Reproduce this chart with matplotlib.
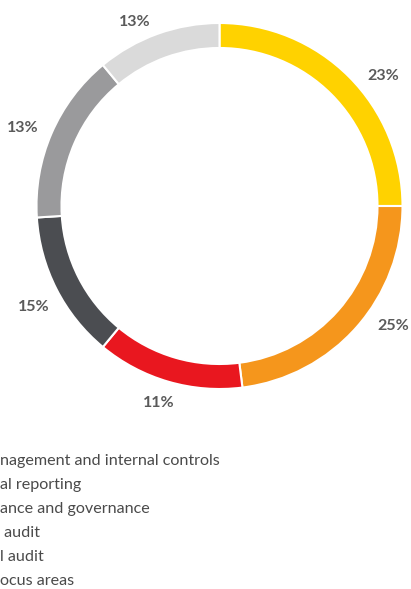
import matplotlib
matplotlib.use('Agg')
import matplotlib.pyplot as plt

W, H = 411, 589  # figure size in pixels

# arc sizes as drawn in the ring (clockwise from 12 o'clock) and the printed labels
arc_share = [25, 23, 13, 13, 15, 11]
pct_labels = ['23%', '25%', '11%', '15%', '13%', '13%']
colors = ['#FFD200', '#F5961C', '#E9171F', '#4B4D51', '#9A9A9C', '#DADADA']

# legend lines as far as they are visible in the crop
legend_items = ['nagement and internal controls',
                'al reporting',
                'ance and governance',
                ' audit',
                'l audit',
                'ocus areas']

# where the percentage labels sit (pixels from top-left)
label_pos = [(383, 76), (393, 326), (159, 403), (34, 307), (23, 128), (135, 22)]

plt.rcParams['font.family'] = ['Lato', 'DejaVu Sans']

fig = plt.figure(figsize=(W / 100, H / 100), dpi=100)
ax = fig.add_axes([0, 0, 1, 1])

cx, cy, r = 219.5, H - 206, 183
wedges, texts = ax.pie(arc_share, colors=colors, startangle=90, counterclock=False,
                       center=(cx, cy), radius=r, labels=pct_labels,
                       wedgeprops=dict(width=25, edgecolor='white', linewidth=1.5),
                       textprops=dict(fontsize=11.5, fontweight='bold', color='#5a5a5a'))
for t, (px, py) in zip(texts, label_pos):
    t.set_position((px, H - py))
    t.set_ha('center')
    t.set_va('center')

ax.set_xlim(0, W)
ax.set_ylim(0, H)
ax.set_aspect('auto')
ax.axis('off')

# legend (cut off at the left edge in the original crop)
for i, item in enumerate(legend_items):
    ax.text(0, H - 465 - i * 24, item, fontsize=11.6, color='#4a4a4a',
            ha='left', va='baseline')

fig.savefig('out.png', dpi=100)
